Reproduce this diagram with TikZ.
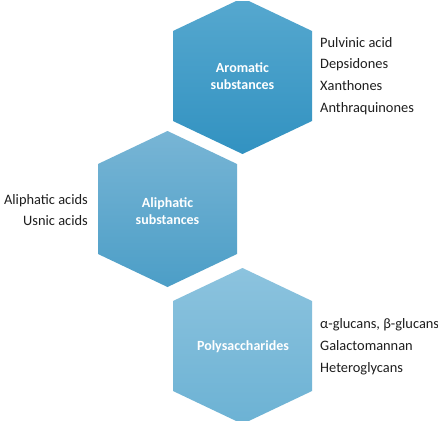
\documentclass[tikz,border=0pt]{standalone}
\usepackage{fontspec}
\setmainfont{Carlito}
\usetikzlibrary{positioning}
\definecolor{hexAtop}{RGB}{86,168,207}
\definecolor{hexAbot}{RGB}{50,146,193}
\definecolor{hexBtop}{RGB}{120,181,213}
\definecolor{hexBbot}{RGB}{76,158,199}
\definecolor{hexCtop}{RGB}{140,195,222}
\definecolor{hexCbot}{RGB}{108,178,212}
\definecolor{txt}{RGB}{30,30,30}
\newcommand{\hexpath}[2]{(#1,#2-78) -- (#1+69.5,#2-45) -- (#1+69.5,#2+45) -- (#1,#2+78) -- (#1-69.5,#2+45) -- (#1-69.5,#2-45) -- cycle}
\tikzset{
  hexlabel/.style={text=white, font=\bfseries\fontsize{14}{16.5}\selectfont, align=center, inner sep=0pt},
  listtext/.style={text=txt, font=\fontsize{14.4}{21.8}\selectfont, inner sep=0pt}
}
\begin{document}
\begin{tikzpicture}[x=1pt,y=-1pt]
\useasboundingbox (0,0) rectangle (438,428);
\fill[white] (0,0) rectangle (438,428);
\begin{scope}
\clip (0,2) rectangle (438,420);
\shade[top color=hexAtop, bottom color=hexAbot] \hexpath{242.5}{76};
\shade[top color=hexBtop, bottom color=hexBbot] \hexpath{167.5}{209};
\shade[top color=hexCtop, bottom color=hexCbot] \hexpath{242.5}{346};
\end{scope}
\node[hexlabel] (arom) at (242.5,76) {Aromatic\\substances};
\node[hexlabel] (aliph) at (167.5,211) {Aliphatic\\substances};
\node[hexlabel] (poly) at (243,347) {Polysaccharides};
\node[listtext, anchor=west, align=left] (aromlist) at (320,76) {Pulvinic acid\\Depsidones\\Xanthones\\Anthraquinones};
\node[listtext, anchor=east, align=right] (aliphlist) at (88,210) {Aliphatic acids\\Usnic acids};
\node[listtext, anchor=west, align=left] (polylist) at (320,347) {α-glucans, β-glucans\\Galactomannan\\Heteroglycans};
\end{tikzpicture}
\end{document}
